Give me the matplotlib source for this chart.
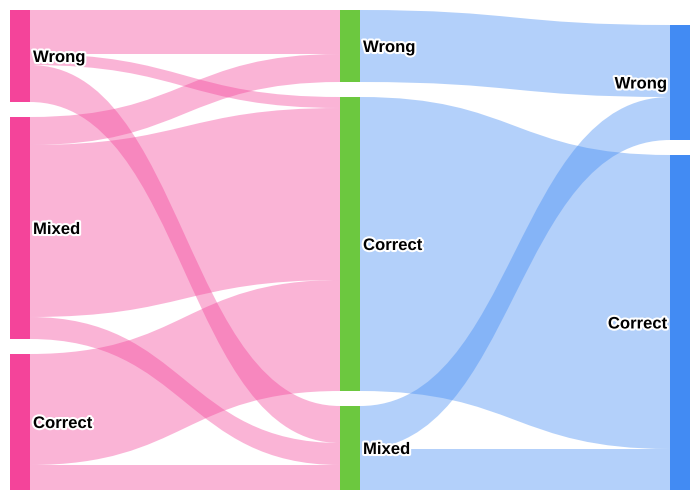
import matplotlib
matplotlib.use('Agg')
import matplotlib.pyplot as plt
from matplotlib.path import Path
from matplotlib.patches import PathPatch, Rectangle
import matplotlib.patheffects as pe

# ---- data ----
node_labels = ['Wrong', 'Mixed', 'Correct', 'Wrong', 'Correct', 'Mixed', 'Wrong', 'Correct']
node_column = [0, 0, 0, 1, 1, 1, 2, 2]
link_source = [0, 0, 0, 1, 1, 1, 2, 2, 3, 4, 5, 5]
link_target = [3, 4, 5, 3, 4, 5, 4, 5, 6, 7, 6, 7]
link_value = [44, 11, 37, 28, 172, 22, 111, 25, 72, 294, 43, 41]

column_colors = ['#F4449A', '#6CC83F', '#428BF3']
link_colors = ['#F4449A', '#428BF3']

# ---- layout ----
W, H = 700, 500
margin = 10
node_w = 20
gap = 15
ncols = max(node_column) + 1
n = len(node_labels)

inflow = [0] * n
outflow = [0] * n
for s, t, v in zip(link_source, link_target, link_value):
    outflow[s] += v
    inflow[t] += v
node_val = [max(a, b) for a, b in zip(inflow, outflow)]

cols = [[i for i in range(n) if node_column[i] == c] for c in range(ncols)]
max_nodes = max(len(c) for c in cols)
max_total = max(sum(node_val[i] for i in c) for c in cols)
scale = (H - 2 * margin - (max_nodes - 1) * gap) / max_total

node_x = [margin + node_column[i] * (W - 2 * margin - node_w) / (ncols - 1) for i in range(n)]
node_y0 = [0] * n
node_h = [node_val[i] * scale for i in range(n)]
for c in cols:
    y = H - margin
    for i in reversed(c):
        node_y0[i] = y - node_h[i]
        y = node_y0[i] - gap

fig = plt.figure(figsize=(7, 5), dpi=100)
ax = fig.add_axes([0, 0, 1, 1])
ax.set_xlim(0, W)
ax.set_ylim(H, 0)
ax.axis('off')

# link offsets
links = list(range(len(link_value)))
src_off = {}
tgt_off = {}
for i in range(n):
    outs = sorted([k for k in links if link_source[k] == i], key=lambda k: node_y0[link_target[k]])
    y = node_y0[i]
    for k in outs:
        src_off[k] = y
        y += link_value[k] * scale
    ins = sorted([k for k in links if link_target[k] == i], key=lambda k: node_y0[link_source[k]])
    y = node_y0[i]
    for k in ins:
        tgt_off[k] = y
        y += link_value[k] * scale

for k in links:
    s, t = link_source[k], link_target[k]
    h = link_value[k] * scale
    x0 = node_x[s] + node_w
    x1 = node_x[t]
    xm = (x0 + x1) / 2
    sy, ty = src_off[k], tgt_off[k]
    verts = [(x0, sy), (xm, sy), (xm, ty), (x1, ty),
             (x1, ty + h), (xm, ty + h), (xm, sy + h), (x0, sy + h), (x0, sy)]
    codes = [Path.MOVETO, Path.CURVE4, Path.CURVE4, Path.CURVE4,
             Path.LINETO, Path.CURVE4, Path.CURVE4, Path.CURVE4, Path.CLOSEPOLY]
    ax.add_patch(PathPatch(Path(verts, codes), facecolor=link_colors[node_column[s]],
                           alpha=0.4, edgecolor='none', lw=0))

for i in range(n):
    ax.add_patch(Rectangle((node_x[i], node_y0[i]), node_w, node_h[i],
                           facecolor=column_colors[node_column[i]], edgecolor='none'))
    cy = node_y0[i] + node_h[i] / 2
    if node_column[i] < ncols - 1:
        tx, ha = node_x[i] + node_w + 3, 'left'
    else:
        tx, ha = node_x[i] - 3, 'right'
    ax.text(tx, cy, node_labels[i], ha=ha, va='center_baseline', fontsize=12,
            fontweight='bold', family='Liberation Sans', color='black',
            path_effects=[pe.withStroke(linewidth=3, foreground='white')])

fig.savefig('out.png', dpi=100)
